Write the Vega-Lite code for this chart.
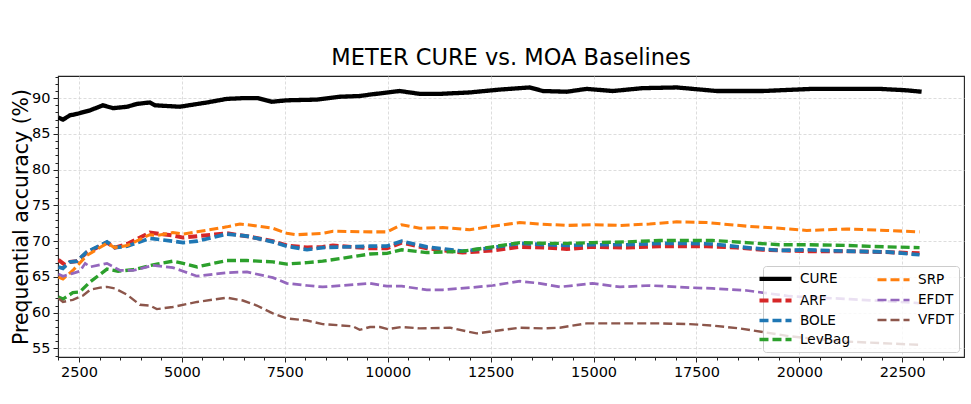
{
  "$schema": "https://vega.github.io/schema/vega-lite/v6.json",
  "width": 906,
  "height": 281,
  "autosize": {"type": "none"},
  "padding": {"left": 58, "top": 76, "right": 7, "bottom": 47},
  "background": "white",
  "title": {
    "text": "METER CURE vs. MOA Baselines",
    "font": "DejaVu Sans",
    "fontSize": 22.5,
    "fontWeight": "normal",
    "color": "#000000",
    "anchor": "middle",
    "offset": 7
  },
  "data": {
    "values": [
      {"model": "ARF", "n": 2000, "acc": 67.4}, {"model": "ARF", "n": 2160, "acc": 66.7}, {"model": "ARF", "n": 2280, "acc": 67.1}, {"model": "ARF", "n": 2450, "acc": 67.2}, {"model": "ARF", "n": 2690, "acc": 68.4}, {"model": "ARF", "n": 3180, "acc": 69.8}, {"model": "ARF", "n": 3370, "acc": 69.1}, {"model": "ARF", "n": 3670, "acc": 69.6}, {"model": "ARF", "n": 4220, "acc": 71.2}, {"model": "ARF", "n": 4780, "acc": 70.8}, {"model": "ARF", "n": 5030, "acc": 70.5}, {"model": "ARF", "n": 5370, "acc": 70.7}, {"model": "ARF", "n": 6090, "acc": 71.1}, {"model": "ARF", "n": 6580, "acc": 70.7}, {"model": "ARF", "n": 7210, "acc": 70.0}, {"model": "ARF", "n": 7550, "acc": 69.4}, {"model": "ARF", "n": 8040, "acc": 69.1}, {"model": "ARF", "n": 8420, "acc": 69.2}, {"model": "ARF", "n": 8670, "acc": 69.4}, {"model": "ARF", "n": 9570, "acc": 69.0}, {"model": "ARF", "n": 9980, "acc": 69.0}, {"model": "ARF", "n": 10340, "acc": 69.8}, {"model": "ARF", "n": 10950, "acc": 69.0}, {"model": "ARF", "n": 11820, "acc": 68.4}, {"model": "ARF", "n": 12550, "acc": 68.7}, {"model": "ARF", "n": 13210, "acc": 69.2}, {"model": "ARF", "n": 13860, "acc": 69.1}, {"model": "ARF", "n": 14350, "acc": 68.9}, {"model": "ARF", "n": 14980, "acc": 69.2}, {"model": "ARF", "n": 15810, "acc": 69.1}, {"model": "ARF", "n": 16610, "acc": 69.3}, {"model": "ARF", "n": 17340, "acc": 69.3}, {"model": "ARF", "n": 17750, "acc": 69.3}, {"model": "ARF", "n": 18480, "acc": 69.1}, {"model": "ARF", "n": 19110, "acc": 68.8}, {"model": "ARF", "n": 20180, "acc": 68.6}, {"model": "ARF", "n": 21150, "acc": 68.6}, {"model": "ARF", "n": 21950, "acc": 68.5}, {"model": "ARF", "n": 22920, "acc": 68.3},

      {"model": "BOLE", "n": 2000, "acc": 66.4}, {"model": "BOLE", "n": 2110, "acc": 66.2}, {"model": "BOLE", "n": 2280, "acc": 67.1}, {"model": "BOLE", "n": 2450, "acc": 67.2}, {"model": "BOLE", "n": 2690, "acc": 68.5}, {"model": "BOLE", "n": 3180, "acc": 69.9}, {"model": "BOLE", "n": 3370, "acc": 69.1}, {"model": "BOLE", "n": 3670, "acc": 69.3}, {"model": "BOLE", "n": 4220, "acc": 70.4}, {"model": "BOLE", "n": 4780, "acc": 70.0}, {"model": "BOLE", "n": 5030, "acc": 69.8}, {"model": "BOLE", "n": 5370, "acc": 70.0}, {"model": "BOLE", "n": 6090, "acc": 71.0}, {"model": "BOLE", "n": 6580, "acc": 70.7}, {"model": "BOLE", "n": 7210, "acc": 69.9}, {"model": "BOLE", "n": 7550, "acc": 69.3}, {"model": "BOLE", "n": 8040, "acc": 68.8}, {"model": "BOLE", "n": 8420, "acc": 69.1}, {"model": "BOLE", "n": 9570, "acc": 69.3}, {"model": "BOLE", "n": 9980, "acc": 69.3}, {"model": "BOLE", "n": 10340, "acc": 70.0}, {"model": "BOLE", "n": 10950, "acc": 69.2}, {"model": "BOLE", "n": 11820, "acc": 68.6}, {"model": "BOLE", "n": 12550, "acc": 69.1}, {"model": "BOLE", "n": 13210, "acc": 69.7}, {"model": "BOLE", "n": 13860, "acc": 69.5}, {"model": "BOLE", "n": 14350, "acc": 69.4}, {"model": "BOLE", "n": 14980, "acc": 69.5}, {"model": "BOLE", "n": 15810, "acc": 69.5}, {"model": "BOLE", "n": 16610, "acc": 69.7}, {"model": "BOLE", "n": 17340, "acc": 69.7}, {"model": "BOLE", "n": 17890, "acc": 69.6}, {"model": "BOLE", "n": 18720, "acc": 69.1}, {"model": "BOLE", "n": 19520, "acc": 68.7}, {"model": "BOLE", "n": 20180, "acc": 68.8}, {"model": "BOLE", "n": 21150, "acc": 68.6}, {"model": "BOLE", "n": 22120, "acc": 68.5}, {"model": "BOLE", "n": 22920, "acc": 68.1},

      {"model": "LevBag", "n": 2000, "acc": 62.2}, {"model": "LevBag", "n": 2110, "acc": 61.9}, {"model": "LevBag", "n": 2350, "acc": 62.8}, {"model": "LevBag", "n": 2520, "acc": 62.9}, {"model": "LevBag", "n": 2770, "acc": 64.3}, {"model": "LevBag", "n": 3180, "acc": 66.1}, {"model": "LevBag", "n": 3450, "acc": 65.8}, {"model": "LevBag", "n": 3810, "acc": 66.0}, {"model": "LevBag", "n": 4390, "acc": 66.8}, {"model": "LevBag", "n": 4780, "acc": 67.2}, {"model": "LevBag", "n": 5030, "acc": 66.9}, {"model": "LevBag", "n": 5370, "acc": 66.4}, {"model": "LevBag", "n": 6090, "acc": 67.3}, {"model": "LevBag", "n": 6580, "acc": 67.3}, {"model": "LevBag", "n": 7210, "acc": 67.1}, {"model": "LevBag", "n": 7550, "acc": 66.8}, {"model": "LevBag", "n": 8040, "acc": 67.0}, {"model": "LevBag", "n": 8420, "acc": 67.2}, {"model": "LevBag", "n": 9570, "acc": 68.2}, {"model": "LevBag", "n": 9980, "acc": 68.3}, {"model": "LevBag", "n": 10340, "acc": 68.8}, {"model": "LevBag", "n": 10950, "acc": 68.4}, {"model": "LevBag", "n": 11820, "acc": 68.6}, {"model": "LevBag", "n": 12550, "acc": 69.2}, {"model": "LevBag", "n": 13210, "acc": 69.8}, {"model": "LevBag", "n": 13860, "acc": 69.7}, {"model": "LevBag", "n": 14350, "acc": 69.7}, {"model": "LevBag", "n": 14980, "acc": 69.8}, {"model": "LevBag", "n": 15810, "acc": 69.9}, {"model": "LevBag", "n": 16610, "acc": 70.1}, {"model": "LevBag", "n": 17340, "acc": 70.1}, {"model": "LevBag", "n": 17890, "acc": 70.1}, {"model": "LevBag", "n": 18720, "acc": 69.8}, {"model": "LevBag", "n": 19520, "acc": 69.5}, {"model": "LevBag", "n": 20180, "acc": 69.5}, {"model": "LevBag", "n": 21150, "acc": 69.4}, {"model": "LevBag", "n": 22120, "acc": 69.2}, {"model": "LevBag", "n": 22920, "acc": 69.1},

      {"model": "SRP", "n": 2000, "acc": 65.0}, {"model": "SRP", "n": 2110, "acc": 64.7}, {"model": "SRP", "n": 2350, "acc": 65.9}, {"model": "SRP", "n": 2690, "acc": 68.0}, {"model": "SRP", "n": 3180, "acc": 69.7}, {"model": "SRP", "n": 3370, "acc": 69.1}, {"model": "SRP", "n": 3670, "acc": 69.4}, {"model": "SRP", "n": 4220, "acc": 70.9}, {"model": "SRP", "n": 4390, "acc": 70.8}, {"model": "SRP", "n": 4780, "acc": 71.2}, {"model": "SRP", "n": 5030, "acc": 71.0}, {"model": "SRP", "n": 5370, "acc": 71.3}, {"model": "SRP", "n": 6090, "acc": 72.0}, {"model": "SRP", "n": 6410, "acc": 72.4}, {"model": "SRP", "n": 6730, "acc": 72.2}, {"model": "SRP", "n": 7210, "acc": 71.8}, {"model": "SRP", "n": 7550, "acc": 71.1}, {"model": "SRP", "n": 7790, "acc": 70.9}, {"model": "SRP", "n": 8420, "acc": 71.1}, {"model": "SRP", "n": 8670, "acc": 71.4}, {"model": "SRP", "n": 9570, "acc": 71.3}, {"model": "SRP", "n": 9980, "acc": 71.3}, {"model": "SRP", "n": 10340, "acc": 72.3}, {"model": "SRP", "n": 10780, "acc": 71.8}, {"model": "SRP", "n": 11340, "acc": 71.9}, {"model": "SRP", "n": 11990, "acc": 71.6}, {"model": "SRP", "n": 12550, "acc": 72.1}, {"model": "SRP", "n": 13210, "acc": 72.6}, {"model": "SRP", "n": 13690, "acc": 72.4}, {"model": "SRP", "n": 14350, "acc": 72.2}, {"model": "SRP", "n": 14980, "acc": 72.3}, {"model": "SRP", "n": 15640, "acc": 72.2}, {"model": "SRP", "n": 16360, "acc": 72.4}, {"model": "SRP", "n": 17020, "acc": 72.7}, {"model": "SRP", "n": 17750, "acc": 72.6}, {"model": "SRP", "n": 18720, "acc": 72.1}, {"model": "SRP", "n": 19520, "acc": 71.8}, {"model": "SRP", "n": 20180, "acc": 71.5}, {"model": "SRP", "n": 21150, "acc": 71.7}, {"model": "SRP", "n": 22120, "acc": 71.5}, {"model": "SRP", "n": 22920, "acc": 71.3},

      {"model": "EFDT", "n": 2000, "acc": 65.4}, {"model": "EFDT", "n": 2110, "acc": 65.1}, {"model": "EFDT", "n": 2350, "acc": 65.5}, {"model": "EFDT", "n": 2520, "acc": 65.8}, {"model": "EFDT", "n": 2650, "acc": 66.9}, {"model": "EFDT", "n": 2770, "acc": 66.4}, {"model": "EFDT", "n": 3180, "acc": 66.9}, {"model": "EFDT", "n": 3500, "acc": 65.9}, {"model": "EFDT", "n": 3810, "acc": 65.9}, {"model": "EFDT", "n": 4300, "acc": 66.6}, {"model": "EFDT", "n": 4780, "acc": 66.3}, {"model": "EFDT", "n": 5030, "acc": 65.8}, {"model": "EFDT", "n": 5370, "acc": 65.1}, {"model": "EFDT", "n": 6090, "acc": 65.6}, {"model": "EFDT", "n": 6580, "acc": 65.7}, {"model": "EFDT", "n": 7210, "acc": 64.9}, {"model": "EFDT", "n": 7550, "acc": 64.1}, {"model": "EFDT", "n": 8040, "acc": 63.8}, {"model": "EFDT", "n": 8420, "acc": 63.6}, {"model": "EFDT", "n": 9570, "acc": 64.1}, {"model": "EFDT", "n": 9980, "acc": 63.7}, {"model": "EFDT", "n": 10340, "acc": 63.7}, {"model": "EFDT", "n": 10950, "acc": 63.2}, {"model": "EFDT", "n": 11340, "acc": 63.2}, {"model": "EFDT", "n": 11990, "acc": 63.5}, {"model": "EFDT", "n": 12550, "acc": 63.8}, {"model": "EFDT", "n": 13210, "acc": 64.4}, {"model": "EFDT", "n": 13690, "acc": 64.1}, {"model": "EFDT", "n": 14180, "acc": 63.6}, {"model": "EFDT", "n": 14980, "acc": 64.1}, {"model": "EFDT", "n": 15640, "acc": 63.6}, {"model": "EFDT", "n": 16360, "acc": 63.8}, {"model": "EFDT", "n": 17340, "acc": 63.5}, {"model": "EFDT", "n": 17890, "acc": 63.4}, {"model": "EFDT", "n": 18720, "acc": 63.1}, {"model": "EFDT", "n": 19760, "acc": 62.3}, {"model": "EFDT", "n": 21220, "acc": 61.9}, {"model": "EFDT", "n": 22750, "acc": 61.4}, {"model": "EFDT", "n": 22970, "acc": 61.3},

      {"model": "VFDT", "n": 2000, "acc": 62.0}, {"model": "VFDT", "n": 2110, "acc": 61.5}, {"model": "VFDT", "n": 2350, "acc": 61.8}, {"model": "VFDT", "n": 2600, "acc": 62.4}, {"model": "VFDT", "n": 2770, "acc": 63.2}, {"model": "VFDT", "n": 3010, "acc": 63.5}, {"model": "VFDT", "n": 3180, "acc": 63.6}, {"model": "VFDT", "n": 3370, "acc": 63.4}, {"model": "VFDT", "n": 3670, "acc": 62.5}, {"model": "VFDT", "n": 3980, "acc": 61.1}, {"model": "VFDT", "n": 4220, "acc": 61.0}, {"model": "VFDT", "n": 4390, "acc": 60.5}, {"model": "VFDT", "n": 4780, "acc": 60.8}, {"model": "VFDT", "n": 5370, "acc": 61.5}, {"model": "VFDT", "n": 6090, "acc": 62.1}, {"model": "VFDT", "n": 6480, "acc": 61.7}, {"model": "VFDT", "n": 6820, "acc": 61.0}, {"model": "VFDT", "n": 7210, "acc": 59.9}, {"model": "VFDT", "n": 7550, "acc": 59.2}, {"model": "VFDT", "n": 8040, "acc": 58.9}, {"model": "VFDT", "n": 8420, "acc": 58.4}, {"model": "VFDT", "n": 9150, "acc": 58.1}, {"model": "VFDT", "n": 9320, "acc": 57.6}, {"model": "VFDT", "n": 9570, "acc": 58.0}, {"model": "VFDT", "n": 9810, "acc": 58.0}, {"model": "VFDT", "n": 10000, "acc": 57.7}, {"model": "VFDT", "n": 10340, "acc": 58.0}, {"model": "VFDT", "n": 10780, "acc": 57.8}, {"model": "VFDT", "n": 11510, "acc": 57.9}, {"model": "VFDT", "n": 12160, "acc": 57.1}, {"model": "VFDT", "n": 12550, "acc": 57.4}, {"model": "VFDT", "n": 13210, "acc": 57.9}, {"model": "VFDT", "n": 13770, "acc": 57.8}, {"model": "VFDT", "n": 14180, "acc": 57.9}, {"model": "VFDT", "n": 14830, "acc": 58.5}, {"model": "VFDT", "n": 15810, "acc": 58.5}, {"model": "VFDT", "n": 16610, "acc": 58.5}, {"model": "VFDT", "n": 17340, "acc": 58.4}, {"model": "VFDT", "n": 17890, "acc": 58.2}, {"model": "VFDT", "n": 18550, "acc": 57.8}, {"model": "VFDT", "n": 19110, "acc": 57.3}, {"model": "VFDT", "n": 19760, "acc": 56.7}, {"model": "VFDT", "n": 20980, "acc": 56.0}, {"model": "VFDT", "n": 22920, "acc": 55.5},

      {"model": "CURE", "n": 2000, "acc": 87.3}, {"model": "CURE", "n": 2110, "acc": 87.0}, {"model": "CURE", "n": 2280, "acc": 87.6}, {"model": "CURE", "n": 2450, "acc": 87.8}, {"model": "CURE", "n": 2770, "acc": 88.3}, {"model": "CURE", "n": 3080, "acc": 89.0}, {"model": "CURE", "n": 3330, "acc": 88.6}, {"model": "CURE", "n": 3670, "acc": 88.8}, {"model": "CURE", "n": 3910, "acc": 89.2}, {"model": "CURE", "n": 4220, "acc": 89.4}, {"model": "CURE", "n": 4350, "acc": 89.0}, {"model": "CURE", "n": 4950, "acc": 88.8}, {"model": "CURE", "n": 5610, "acc": 89.4}, {"model": "CURE", "n": 6090, "acc": 89.9}, {"model": "CURE", "n": 6480, "acc": 90.0}, {"model": "CURE", "n": 6850, "acc": 90.0}, {"model": "CURE", "n": 7190, "acc": 89.5}, {"model": "CURE", "n": 7550, "acc": 89.7}, {"model": "CURE", "n": 8280, "acc": 89.8}, {"model": "CURE", "n": 8840, "acc": 90.2}, {"model": "CURE", "n": 9320, "acc": 90.3}, {"model": "CURE", "n": 9570, "acc": 90.5}, {"model": "CURE", "n": 10290, "acc": 91.0}, {"model": "CURE", "n": 10780, "acc": 90.6}, {"model": "CURE", "n": 11270, "acc": 90.6}, {"model": "CURE", "n": 11990, "acc": 90.8}, {"model": "CURE", "n": 12720, "acc": 91.2}, {"model": "CURE", "n": 13450, "acc": 91.5}, {"model": "CURE", "n": 13770, "acc": 91.0}, {"model": "CURE", "n": 14350, "acc": 90.9}, {"model": "CURE", "n": 14830, "acc": 91.3}, {"model": "CURE", "n": 15470, "acc": 91.0}, {"model": "CURE", "n": 16190, "acc": 91.4}, {"model": "CURE", "n": 17020, "acc": 91.5}, {"model": "CURE", "n": 17990, "acc": 91.0}, {"model": "CURE", "n": 19110, "acc": 91.0}, {"model": "CURE", "n": 20320, "acc": 91.3}, {"model": "CURE", "n": 21950, "acc": 91.3}, {"model": "CURE", "n": 22600, "acc": 91.1}, {"model": "CURE", "n": 22970, "acc": 90.9}
    ]
  },
  "resolve": {"axis": {"x": "independent", "y": "independent"}},
  "layer": [
    {
      "mark": {"type": "line", "clip": true},
      "encoding": {
        "x": {
          "field": "n",
          "type": "quantitative",
          "scale": {"domain": [1990, 24000], "nice": false, "zero": false},
          "axis": {
            "orient": "bottom",
            "title": null,
            "values": [2500, 5000, 7500, 10000, 12500, 15000, 17500, 20000, 22500],
            "format": "d",
            "grid": true,
            "tickSize": 5,
            "labelPadding": 3
          }
        },
        "y": {
          "field": "acc",
          "type": "quantitative",
          "scale": {"domain": [53.8, 93.1], "nice": false, "zero": false},
          "axis": {
            "orient": "left",
            "title": "Prequential accuracy (%)",
            "values": [55, 60, 65, 70, 75, 80, 85, 90],
            "grid": true,
            "tickSize": 5,
            "labelPadding": 3,
            "titlePadding": 0
          }
        },
        "color": {
          "field": "model",
          "type": "nominal",
          "scale": {
            "domain": ["CURE", "ARF", "BOLE", "LevBag", "SRP", "EFDT", "VFDT"],
            "range": ["#000000", "#d62728", "#1f77b4", "#2ca02c", "#ff7f0e", "#9467bd", "#8c564b"]
          },
          "legend": {"title": null}
        },
        "strokeDash": {
          "field": "model",
          "type": "nominal",
          "scale": {
            "domain": ["CURE", "ARF", "BOLE", "LevBag", "SRP", "EFDT", "VFDT"],
            "range": [[1, 0], [9, 4], [9, 4], [9, 4], [9, 4], [9, 4], [9, 4]]
          },
          "legend": {"title": null}
        },
        "strokeWidth": {
          "field": "model",
          "type": "nominal",
          "scale": {
            "domain": ["CURE", "ARF", "BOLE", "LevBag", "SRP", "EFDT", "VFDT"],
            "range": [4.3, 2.4, 2.4, 2.4, 2.4, 2.4, 2.4]
          },
          "legend": {"title": null}
        }
      }
    },
    {
      "mark": {"type": "point", "opacity": 0, "size": 0},
      "encoding": {
        "x": {
          "field": "n",
          "type": "quantitative",
          "scale": {"domain": [1990, 24000], "nice": false, "zero": false},
          "axis": {
            "orient": "bottom",
            "title": null,
            "labels": false,
            "grid": false,
            "domain": false,
            "tickSize": 3,
            "values": [2000, 3000, 3500, 4000, 4500, 5500, 6000, 6500, 7000, 8000, 8500, 9000, 9500, 10500, 11000, 11500, 12000, 13000, 13500, 14000, 14500, 15500, 16000, 16500, 17000, 18000, 18500, 19000, 19500, 20500, 21000, 21500, 22000, 23000, 23500]
          }
        },
        "y": {
          "field": "acc",
          "type": "quantitative",
          "scale": {"domain": [53.8, 93.1], "nice": false, "zero": false},
          "axis": {
            "orient": "left",
            "title": null,
            "labels": false,
            "grid": false,
            "domain": false,
            "tickSize": 3,
            "values": [54, 56, 57, 58, 59, 61, 62, 63, 64, 66, 67, 68, 69, 71, 72, 73, 74, 76, 77, 78, 79, 81, 82, 83, 84, 86, 87, 88, 89, 91, 92, 93]
          }
        }
      }
    }
  ],
  "config": {
    "font": "DejaVu Sans",
    "view": {"stroke": "#222222", "strokeWidth": 1.1},
    "axis": {
      "domain": false,
      "labelFont": "DejaVu Sans",
      "labelFontSize": 14.5,
      "labelColor": "#000000",
      "tickColor": "#222222",
      "tickWidth": 1,
      "gridColor": "#d4d4d4",
      "gridDash": [3, 2],
      "gridWidth": 0.8,
      "titleFont": "DejaVu Sans",
      "titleFontSize": 20.4,
      "titleFontWeight": "normal",
      "titleColor": "#000000"
    },
    "legend": {
      "orient": "none",
      "legendX": 705,
      "legendY": 190,
      "columns": 2,
      "fillColor": "rgba(255,255,255,0.8)",
      "strokeColor": "#cccccc",
      "cornerRadius": 3,
      "padding": 5,
      "labelFont": "DejaVu Sans",
      "labelFontSize": 13.6,
      "labelColor": "#000000",
      "symbolType": "M-3,0H3",
      "symbolSize": 114,
      "labelOffset": 17,
      "columnPadding": 20,
      "rowPadding": 4
    }
  }
}
